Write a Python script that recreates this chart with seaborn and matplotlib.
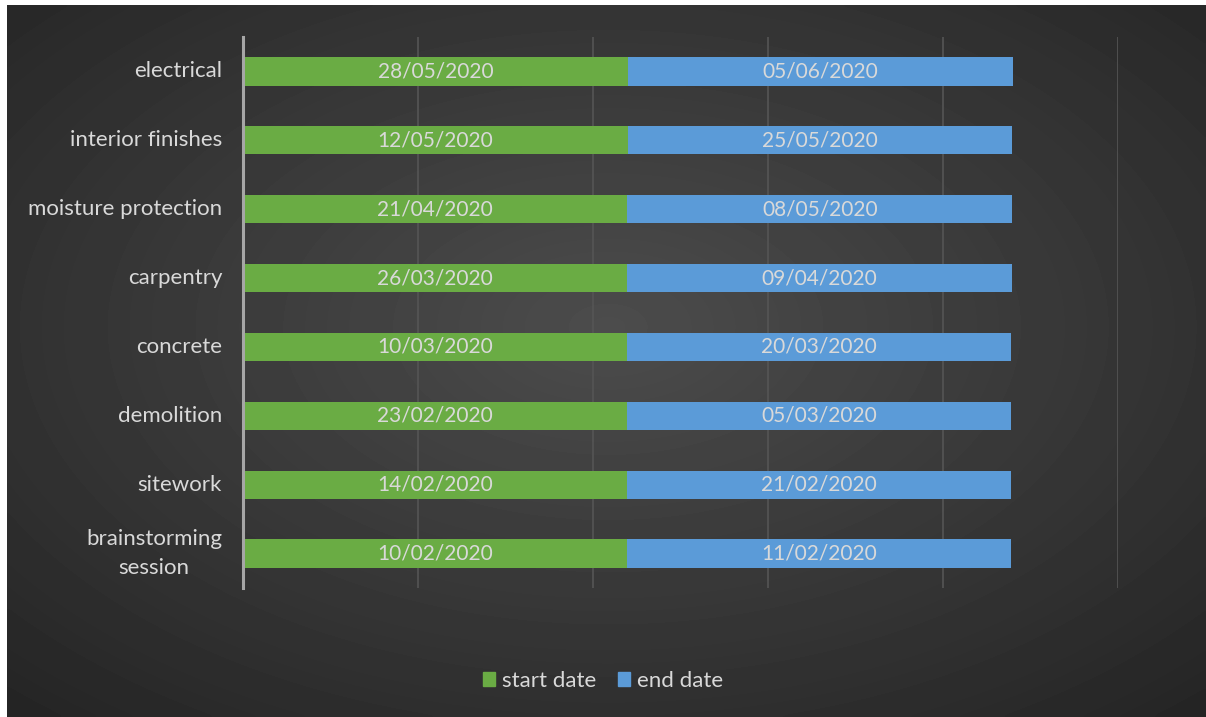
import numpy as np
import pandas as pd
import matplotlib
matplotlib.use("Agg")
import matplotlib.pyplot as plt
import matplotlib.patches as mpatches
import seaborn as sns

# tasks, bottom to top as in the sheet
tasks = ["brainstorming\nsession", "sitework", "demolition", "concrete",
         "carpentry", "moisture protection", "interior finishes", "electrical"]
start_dates = ["10/02/2020", "14/02/2020", "23/02/2020", "10/03/2020",
               "26/03/2020", "21/04/2020", "12/05/2020", "28/05/2020"]
end_dates = ["11/02/2020", "21/02/2020", "05/03/2020", "20/03/2020",
             "09/04/2020", "08/05/2020", "25/05/2020", "05/06/2020"]

# excel stores dates as day serials, the bars are stacked serials
base = pd.Timestamp("1899-12-30")
start_num = [(pd.to_datetime(d, dayfirst=True) - base).days for d in start_dates]
end_num = [(pd.to_datetime(d, dayfirst=True) - base).days for d in end_dates]

df = pd.DataFrame({"task": tasks, "start": start_num, "end": end_num})
df["total"] = df["start"] + df["end"]
order = tasks[::-1]

green = "#6aac44"
blue = "#5b9bd8"
txt = "#d9d9d9"

sns.set_theme(style="dark")
plt.rcParams["font.family"] = ["Lato", "DejaVu Sans"]

W, H = 1206, 717
fig = plt.figure(figsize=(W / 100, H / 100), dpi=100, facecolor="white")

# radial dark background
bg = fig.add_axes([7 / W, 0, 1 - 7 / W, 1 - 5 / H])
yy, xx = np.mgrid[0:200, 0:340]
r = np.sqrt(((xx - 170) / 340) ** 2 + ((yy - 90) / 200) ** 2)
r = np.clip(r / 0.75, 0, 1)
bg.imshow(0.30 - 0.16 * r, cmap="gray", vmin=0, vmax=1, aspect="auto",
          extent=[0, 1, 0, 1], interpolation="bicubic")
bg.set_axis_off()

ax = fig.add_axes([243 / W, 129 / H, 875 / W, 551 / H])
ax.set_facecolor("none")

sns.barplot(data=df, x="total", y="task", order=order, color=blue,
            width=0.41, saturation=1, ax=ax, zorder=3, linewidth=0)
sns.barplot(data=df, x="start", y="task", order=order, color=green,
            width=0.41, saturation=1, ax=ax, zorder=3, linewidth=0)

# date labels centred in each segment
for i, row in df.set_index("task").loc[order].reset_index().iterrows():
    ax.text(row["start"] / 2, i, start_dates[tasks.index(row["task"])],
            ha="center", va="center", color=txt, fontsize=15, zorder=5)
    ax.text(row["start"] + row["end"] / 2, i, end_dates[tasks.index(row["task"])],
            ha="center", va="center", color=txt, fontsize=15, zorder=5)

ax.set_xlim(0, 100000)
ax.set_ylim(7.5, -0.5)
ax.set_xticks(np.arange(0, 100001, 20000))
ax.set_xticklabels([])
ax.grid(axis="x", color="#555555", linewidth=1.2, zorder=0)
ax.grid(axis="y", visible=False)
ax.set_xlabel("")
ax.set_ylabel("")
ax.tick_params(axis="y", length=0, pad=15, labelsize=16, labelcolor=txt)
ax.tick_params(axis="x", length=0)
for lab in ax.get_yticklabels():
    lab.set_linespacing(1.55)
    lab.set_verticalalignment("center")
    lab.set_multialignment("center")
for s in ["top", "right", "bottom"]:
    ax.spines[s].set_visible(False)
ax.spines["left"].set_color("#a6a6a6")
ax.spines["left"].set_linewidth(2.2)
ax.spines["left"].set_zorder(6)

handles = [mpatches.Patch(color=green, label="start date"),
           mpatches.Patch(color=blue, label="end date")]
fig.legend(handles=handles, loc="center", bbox_to_anchor=(0.5, 36 / H), ncol=2,
           frameon=False, fontsize=16, labelcolor=txt, handlelength=0.55,
           handleheight=0.55, handletextpad=0.3, columnspacing=1.0)

fig.savefig("out.png", dpi=100, facecolor="white")
